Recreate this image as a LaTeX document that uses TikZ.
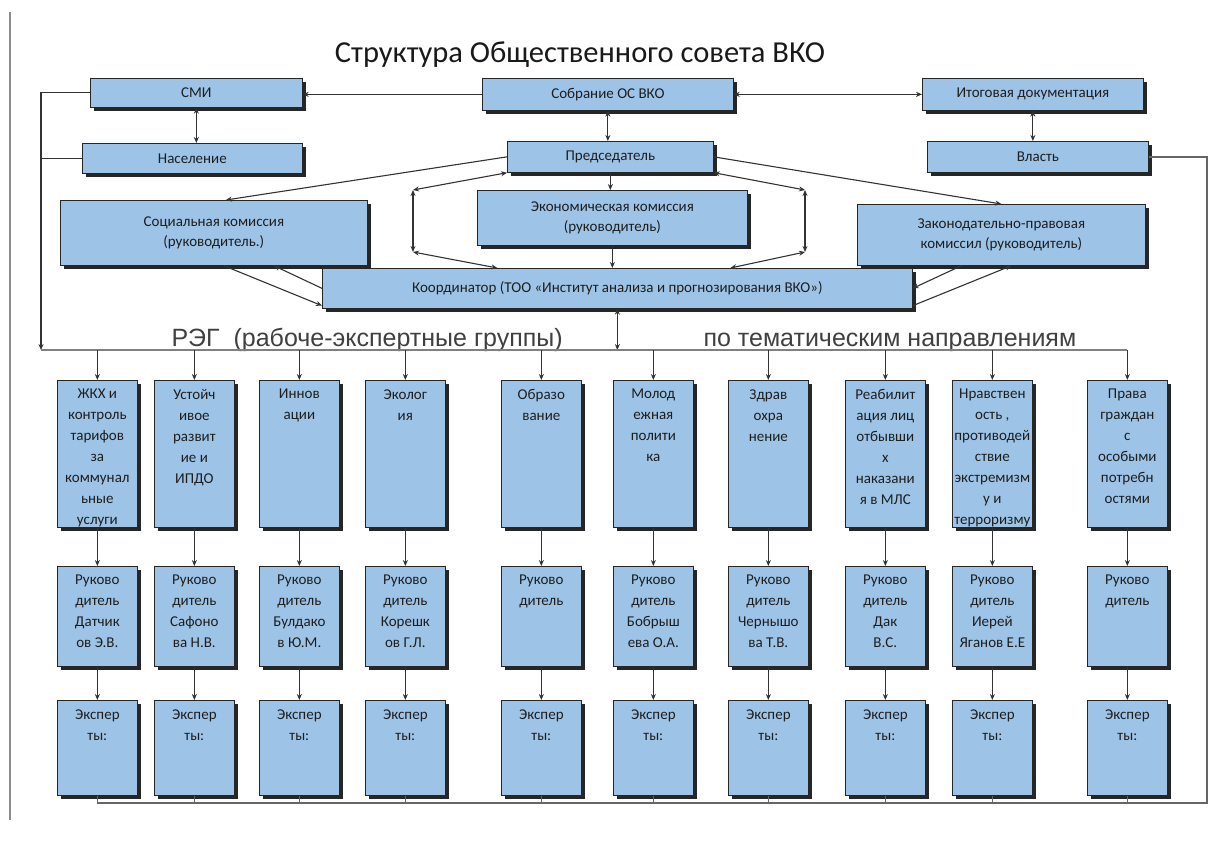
\documentclass[tikz,border=0pt]{standalone}
\usepackage{fontspec}
\setmainfont{Carlito}
\newfontfamily\arialf{Liberation Sans}
\usetikzlibrary{arrows.meta,shadows,calc}
\definecolor{boxblue}{RGB}{157,196,231}
\definecolor{txt}{RGB}{30,30,30}
\newcommand\bx[6]{\node[box,anchor=north west,minimum width={#4-#2},minimum height={#5-#3}] (#1) at (#2,#3) {#6};}
\newcommand\cb[6]{\node[box,anchor=north west] (#1) at (#2,#3) {\parbox[c][#5pt][t]{#4pt}{\centering\fontsize{15}{21}\selectfont\vspace*{9pt}#6\par}};}
\begin{document}
\begin{tikzpicture}[x=1pt,y=-1pt,
  box/.style={draw=black!85, line width=0.7pt, fill=boxblue, inner sep=0pt,
    drop shadow={shadow xshift=3.5pt, shadow yshift=-3.5pt, fill=black!85, opacity=1},
    text=txt, font=\fontsize{15}{20}\selectfont, align=center},
  con/.style={draw=black!80, line width=1.1pt},
  arr/.style={con, -{Stealth[length=6pt,width=5pt]}},
  darr/.style={con, {Stealth[length=6pt,width=5pt]}-{Stealth[length=6pt,width=5pt]}},
  busln/.style={draw=black!50, line width=2.5pt},
  rline/.style={draw=black!60, line width=1.6pt},
  buslabel/.style={font=\arialf\fontsize{25}{28}\selectfont, text=black!75, anchor=base west}]
\useasboundingbox (0,0) rectangle (1222,843);
\fill[white] (0,0) rectangle (1222,843);
% left frame line
\draw[draw=black!45, line width=1.5pt] (10,12) -- (10,820);
% title
\node[font=\fontsize{30.5}{34}\selectfont, text=black!90, anchor=base] (title) at (580,63) {Структура Общественного совета ВКО};
% top boxes
\bx{smi}{90}{78}{302}{107}{СМИ}
\bx{sobr}{482}{78}{733}{110}{Собрание ОС ВКО}
\bx{itog}{922}{78}{1143}{110}{Итоговая документация}
\bx{nas}{82}{143}{302}{173}{Население}
\bx{pred}{507}{141}{713}{172}{Председатель}
\bx{vl}{927}{141}{1148}{172}{Власть}
\bx{soc}{60}{200}{367}{265}{Социальная комиссия\\(руководитель.)}
\bx{econ}{477}{190}{747}{245}{Экономическая комиссия\\(руководитель)}
\bx{zak}{857}{204}{1145}{265}{Законодательно-правовая\\комиссил (руководитель)}
\bx{coord}{322}{268}{912}{308}{Координатор (ТОО «Институт анализа и прогнозирования ВКО»)}
% labels of the bus
\node[buslabel] (reg) at (168,346) {РЭГ\ \ (рабоче-экспертные группы)};
\node[buslabel] (ptn) at (700,346) {по тематическим направлениям};
% coordinates
\coordinate (busL) at (41,350);
\coordinate (busR) at (1127,350);
\coordinate (rr) at (1207,803);
\coordinate (hl1) at (413,190);
\coordinate (hl2) at (413,252);
\coordinate (hr1) at (805,190);
\coordinate (hr2) at (805,252);
% top connectors
\draw[arr] (sobr.west) -- (sobr.west -| smi.east);
\draw[darr] (sobr.east) -- (sobr.east -| itog.west);
\draw[darr] (sobr.south) -- (sobr.south |- pred.north);
\draw[darr] (smi.south) -- (smi.south |- nas.north);
\draw[darr] (itog.south) -- (itog.south |- vl.north);
\draw[arr] (pred.west) -- ([xshift=12]soc.north);
\draw[arr] (pred.east) -- (zak.north);
\draw[arr] (pred.south) -- (pred.south |- econ.north);
\draw[arr] (econ.south) -- (econ.south |- coord.north);
\draw[darr] (pred.south west) -- (hl1);
\draw[darr] (hl1) -- (hl2);
\draw[darr] (hl2) -- ([xshift=-120]coord.north);
\draw[darr] (pred.south east) -- (hr1);
\draw[darr] (hr1) -- (hr2);
\draw[darr] (hr2) -- ([xshift=113]coord.north);
\draw[arr] ([xshift=10]soc.south) -- ([yshift=3]coord.south west);
\draw[arr] (coord.west) -- ([xshift=60]soc.south);
\draw[arr] ([xshift=-40]zak.south) -- (coord.east);
\draw[arr] ([yshift=3]coord.south east) -- ([xshift=10]zak.south);
\draw[arr] (smi.west) -- (smi.west -| busL) -- (busL);
\draw[con] (nas.west) -- (nas.west -| busL);
\draw[darr] (coord.south) -- (coord.south |- busL);
% bus
\draw[busln] (busL) -- (busR);
% columns: top row
\cb{t1}{57}{380}{80}{147}{ЖКХ и\\контроль\\тарифов\\за\\коммунал\\ьные\\услуги}
\cb{t2}{154}{380}{80}{147}{Устойч\\ивое\\развит\\ие и\\ИПДО}
\cb{t3}{259}{380}{80}{147}{Иннов\\ации}
\cb{t4}{365}{380}{80}{147}{Эколог\\ия}
\cb{t5}{501}{380}{80}{147}{Образо\\вание}
\cb{t6}{613}{380}{80}{147}{Молод\\ежная\\полити\\ка}
\cb{t7}{728}{380}{80}{147}{Здрав\\охра\\нение}
\cb{t8}{845}{380}{80}{147}{Реабилит\\ация лиц\\отбывши\\х\\наказани\\я в МЛС}
\cb{t9}{952}{380}{80}{147}{Нравствен\\ость ,\\противодей\\ствие\\экстремизм\\у и\\терроризму}
\cb{t10}{1087}{380}{80}{147}{Права\\граждан\\с\\особыми\\потребн\\остями}
% middle row
\cb{m1}{57}{566}{80}{100}{Руково\\дитель\\Датчик\\ов Э.В.}
\cb{m2}{154}{566}{80}{100}{Руково\\дитель\\Сафоно\\ва Н.В.}
\cb{m3}{259}{566}{80}{100}{Руково\\дитель\\Булдако\\в Ю.М.}
\cb{m4}{365}{566}{80}{100}{Руково\\дитель\\Корешк\\ов Г.Л.}
\cb{m5}{501}{566}{80}{100}{Руково\\дитель}
\cb{m6}{613}{566}{80}{100}{Руково\\дитель\\Бобрыш\\ева О.А.}
\cb{m7}{728}{566}{80}{100}{Руково\\дитель\\Чернышо\\ва Т.В.}
\cb{m8}{845}{566}{80}{100}{Руково\\дитель\\Дак\\В.С.}
\cb{m9}{952}{566}{80}{100}{Руково\\дитель\\Иерей\\Яганов Е.Е}
\cb{m10}{1087}{566}{80}{100}{Руково\\дитель}
% bottom row
\cb{e1}{57}{700}{80}{95}{Экспер\\ты:}
\cb{e2}{154}{700}{80}{95}{Экспер\\ты:}
\cb{e3}{259}{700}{80}{95}{Экспер\\ты:}
\cb{e4}{365}{700}{80}{95}{Экспер\\ты:}
\cb{e5}{501}{700}{80}{95}{Экспер\\ты:}
\cb{e6}{613}{700}{80}{95}{Экспер\\ты:}
\cb{e7}{728}{700}{80}{95}{Экспер\\ты:}
\cb{e8}{845}{700}{80}{95}{Экспер\\ты:}
\cb{e9}{952}{700}{80}{95}{Экспер\\ты:}
\cb{e10}{1087}{700}{80}{95}{Экспер\\ты:}
% column connectors
\foreach \i in {1,...,10} {
  \draw[arr] (t\i.north |- busL) -- (t\i.north);
  \draw[arr] (t\i.south) -- (m\i.north);
  \draw[arr] (m\i.south) -- (e\i.north);
  \draw[rline] (e\i.south) -- (e\i.south |- rr);
}
% return line from Власть
\draw[rline] (vl.east) -- (vl.east -| rr) -- (rr) -- (e1.south |- rr);
\end{tikzpicture}
\end{document}
